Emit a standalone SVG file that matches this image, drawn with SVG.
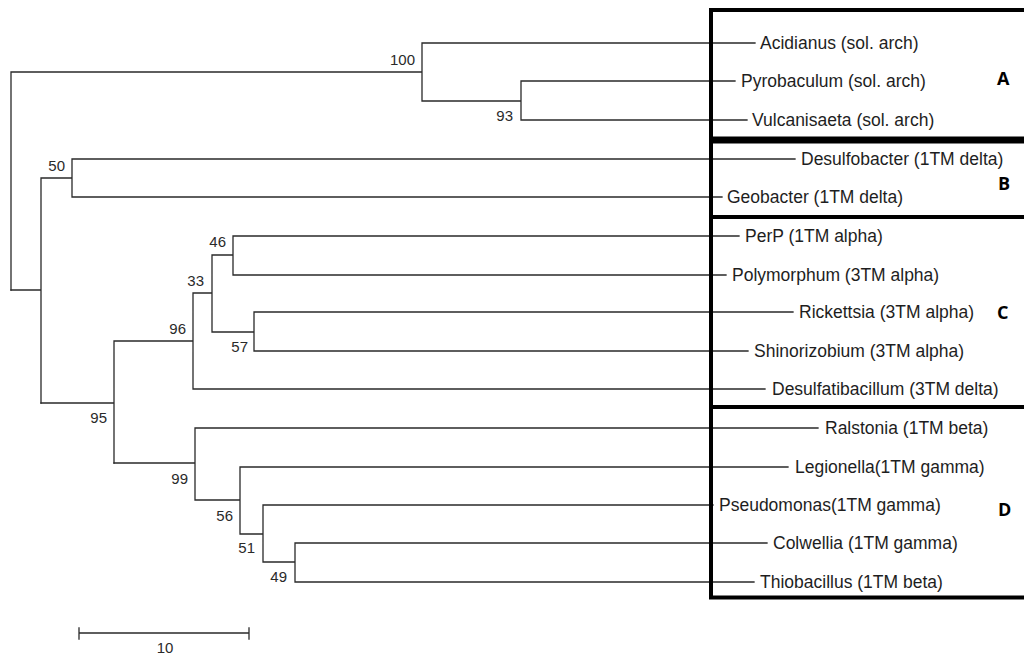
<svg xmlns="http://www.w3.org/2000/svg" width="1024" height="655" viewBox="0 0 1024 655">
<style>
.edge{fill:none;stroke:#2a2a2a;stroke-width:1.3;stroke-linecap:square}
.box{fill:none;stroke:#000;stroke-width:4;stroke-linecap:square}
.leaf{font-family:"Liberation Sans",Arial,sans-serif;font-size:17.5px;fill:#1e1e1e}
.bs{font-family:"Liberation Sans",Arial,sans-serif;font-size:15px;fill:#2a2a2a;text-anchor:end}
.grp{font-family:"Open Sans","Liberation Sans",sans-serif;font-size:18px;font-weight:bold;fill:#000}
</style>
<rect width="1024" height="655" fill="#fff"/>
<g id="connectors">
<path class="edge" d="M11,72 V290 M11,72 H422 M422,43 V101 M422,43 H755 M422,101 H521 M521,81 V120 M521,81 H735 M521,120 H747"/>
<path class="edge" d="M11,290 H41 M41,178 V403 M41,178 H72 M72,159 V197 M72,159 H795 M72,197 H722"/>
<path class="edge" d="M41,403 H114 M114,341 V463 M114,341 H193 M193,293 V389 M193,293 H212 M212,255 V332 M212,255 H233 M233,236 V275 M233,236 H739 M233,275 H726 M212,332 H254 M254,312 V351 M254,312 H793 M254,351 H748 M193,389 H765"/>
<path class="edge" d="M114,463 H195 M195,428 V500 M195,428 H818 M195,500 H240 M240,467 V534 M240,467 H788 M240,534 H263 M263,505 V562 M263,505 H713 M263,562 H295 M295,543 V582 M295,543 H767 M295,582 H754"/>
</g>
<g id="boxes">
<path class="box" d="M711,10 V597.5 H1026 M711,10 H1026 M711,217 H1026 M711,407 H1026"/>
<path class="box" style="stroke-width:7;stroke-linecap:butt" d="M709,140 H1026"/>
</g>
<g id="leaf-acidianus"><text class="leaf" x="760" y="49">Acidianus (sol. arch)</text></g>
<g id="leaf-pyrobaculum"><text class="leaf" x="741" y="87">Pyrobaculum (sol. arch)</text></g>
<g id="leaf-vulcanisaeta"><text class="leaf" x="752" y="126">Vulcanisaeta (sol. arch)</text></g>
<g id="leaf-desulfobacter"><text class="leaf" x="801" y="165">Desulfobacter (1TM delta)</text></g>
<g id="leaf-geobacter"><text class="leaf" x="727" y="203">Geobacter (1TM delta)</text></g>
<g id="leaf-perp"><text class="leaf" x="745" y="242">PerP (1TM alpha)</text></g>
<g id="leaf-polymorphum"><text class="leaf" x="732" y="281">Polymorphum (3TM alpha)</text></g>
<g id="leaf-rickettsia"><text class="leaf" x="799" y="318">Rickettsia (3TM alpha)</text></g>
<g id="leaf-shinorizobium"><text class="leaf" x="754" y="357">Shinorizobium (3TM alpha)</text></g>
<g id="leaf-desulfatibacillum"><text class="leaf" x="772" y="395">Desulfatibacillum (3TM delta)</text></g>
<g id="leaf-ralstonia"><text class="leaf" x="825" y="434">Ralstonia (1TM beta)</text></g>
<g id="leaf-legionella"><text class="leaf" x="795" y="473">Legionella(1TM gamma)</text></g>
<g id="leaf-pseudomonas"><text class="leaf" x="719" y="511">Pseudomonas(1TM gamma)</text></g>
<g id="leaf-colwellia"><text class="leaf" x="773" y="549">Colwellia (1TM gamma)</text></g>
<g id="leaf-thiobacillus"><text class="leaf" x="760" y="588">Thiobacillus (1TM beta)</text></g>
<g id="group-A"><text class="grp" x="997" y="85">A</text></g>
<g id="group-B"><text class="grp" x="998" y="190">B</text></g>
<g id="group-C"><text class="grp" x="997" y="319">C</text></g>
<g id="group-D"><text class="grp" x="998" y="516">D</text></g>
<g id="bootstrap">
<text class="bs" x="415" y="65">100</text>
<text class="bs" x="513" y="121">93</text>
<text class="bs" x="65" y="171">50</text>
<text class="bs" x="226" y="247">46</text>
<text class="bs" x="204" y="286">33</text>
<text class="bs" x="186" y="334">96</text>
<text class="bs" x="248" y="352">57</text>
<text class="bs" x="107" y="423">95</text>
<text class="bs" x="188" y="484">99</text>
<text class="bs" x="233" y="521">56</text>
<text class="bs" x="255" y="553">51</text>
<text class="bs" x="287" y="582">49</text>
</g>
<g id="scale-bar">
<path class="edge" d="M79,633 H249 M79,628 V639 M249,628 V639"/>
<text class="bs" x="165" y="653" style="text-anchor:middle">10</text>
</g>
</svg>
